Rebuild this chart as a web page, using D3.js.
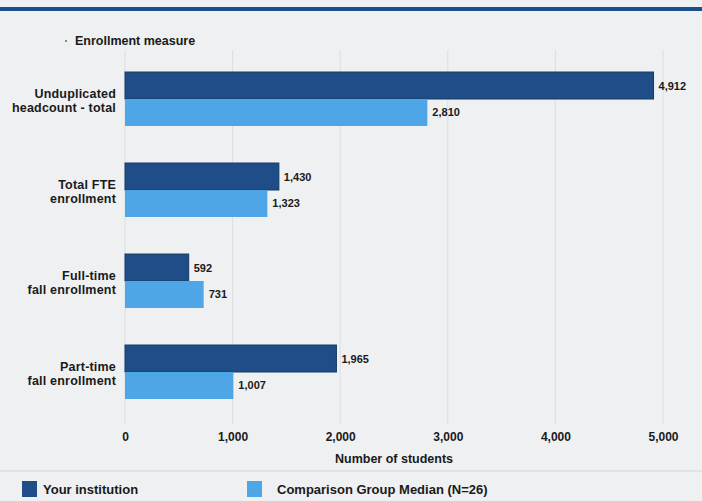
<!DOCTYPE html>
<html>
<head>
<meta charset="utf-8">
<script src="https://cdn.jsdelivr.net/npm/d3@7/dist/d3.min.js"></script>
<style>
  html, body { margin: 0; padding: 0; background: #eef0f2; }
  svg { display: block; }
  text { font-family: "Liberation Sans", Arial, sans-serif; fill: #1a1a1a; }
</style>
</head>
<body>
<svg id="chart" width="702" height="501"></svg>
<script>
// Enrollment measures and values
const categories = [
  ["Unduplicated", "headcount - total"],
  ["Total FTE", "enrollment"],
  ["Full-time", "fall enrollment"],
  ["Part-time", "fall enrollment"]
];
const yourInstitution = [4912, 1430, 592, 1965];
const comparisonMedian = [2810, 1323, 731, 1007];
const seriesNames = ["Your institution", "Comparison Group Median (N=26)"];
const tickValues = [0, 1000, 2000, 3000, 4000, 5000];

const colors = ["#1f4d87", "#4fa6e6"];

const svg = d3.select("#chart");
const W = 702, H = 501;

// page background and header band
svg.append("rect").attr("width", W).attr("height", H).attr("fill", "#eef0f2");
svg.append("rect").attr("x", 0).attr("y", 7).attr("width", W).attr("height", 4).attr("fill", "#1c4f8e");

const x = d3.scaleLinear().domain([0, 5000]).range([125, 663]);
const y = d3.scaleBand()
  .domain(d3.range(categories.length))
  .range([53.5, 417.5])
  .paddingInner(0.407)
  .paddingOuter(0.2035);
const sub = d3.scaleBand().domain([0, 1]).range([0, y.bandwidth()]);

// faint gridlines
svg.append("g")
  .selectAll("line")
  .data(tickValues)
  .join("line")
  .attr("x1", d => x(d)).attr("x2", d => x(d))
  .attr("y1", 50).attr("y2", 424)
  .attr("stroke", "#dadee3").attr("stroke-width", 1);

// title
svg.append("text").attr("x", 75).attr("y", 45)
  .attr("font-size", 12.5).attr("font-weight", "bold").text("Enrollment measure");
svg.append("circle").attr("cx", 66).attr("cy", 41).attr("r", 1).attr("fill", "#666");

// bars
const series = [yourInstitution, comparisonMedian];
series.forEach((vals, s) => {
  const g = svg.append("g");
  g.selectAll("rect")
    .data(vals)
    .join("rect")
    .attr("x", x(0))
    .attr("y", (d, i) => y(i) + sub(s))
    .attr("width", d => x(d) - x(0))
    .attr("height", sub.bandwidth())
    .attr("fill", colors[s])
    .attr("stroke", s === 0 ? "#163a66" : "none")
    .attr("stroke-width", 1);
  g.selectAll("text")
    .data(vals)
    .join("text")
    .attr("x", d => x(d) + 5)
    .attr("y", (d, i) => y(i) + sub(s) + sub.bandwidth() / 2 + 4)
    .attr("font-size", 11)
    .attr("font-weight", "bold")
    .text(d => d3.format(",")(d));
});

// category labels
const catG = svg.append("g");
categories.forEach((lines, i) => {
  const cy = y(i) + y.bandwidth() / 2;
  const t = catG.append("text")
    .attr("text-anchor", "end")
    .attr("font-size", 12.5)
    .attr("font-weight", "bold")
    .attr("letter-spacing", 0.2);
  lines.forEach((ln, k) => {
    t.append("tspan").attr("x", 116).attr("y", cy - 1 + k * 14).text(ln);
  });
});

// x axis
const xAxis = d3.axisBottom(x).tickValues(tickValues).tickFormat(d3.format(",")).tickSize(0).tickPadding(0);
const ax = svg.append("g").attr("transform", "translate(0,432)").call(xAxis);
ax.select(".domain").remove();
ax.selectAll("text")
  .attr("font-size", 12).attr("font-weight", "bold")
  .style("font-family", "'Liberation Sans', Arial, sans-serif").attr("fill", "#1a1a1a");

svg.append("text").attr("x", x(2500)).attr("y", 463)
  .attr("text-anchor", "middle").attr("font-size", 12.5).attr("font-weight", "bold")
  .text("Number of students");

// separator
svg.append("line").attr("x1", 0).attr("x2", W).attr("y1", 471).attr("y2", 471)
  .attr("stroke", "#d0d4d9").attr("stroke-width", 1);

// legend
const legendX = [22, 247];
seriesNames.forEach((name, s) => {
  svg.append("rect").attr("x", legendX[s]).attr("y", 481).attr("width", 15).attr("height", 16)
    .attr("fill", colors[s]);
  svg.append("text").attr("x", legendX[s] + (s === 0 ? 21 : 30)).attr("y", 494)
    .attr("font-size", 13).attr("font-weight", "bold").text(name);
});
</script>
</body>
</html>
